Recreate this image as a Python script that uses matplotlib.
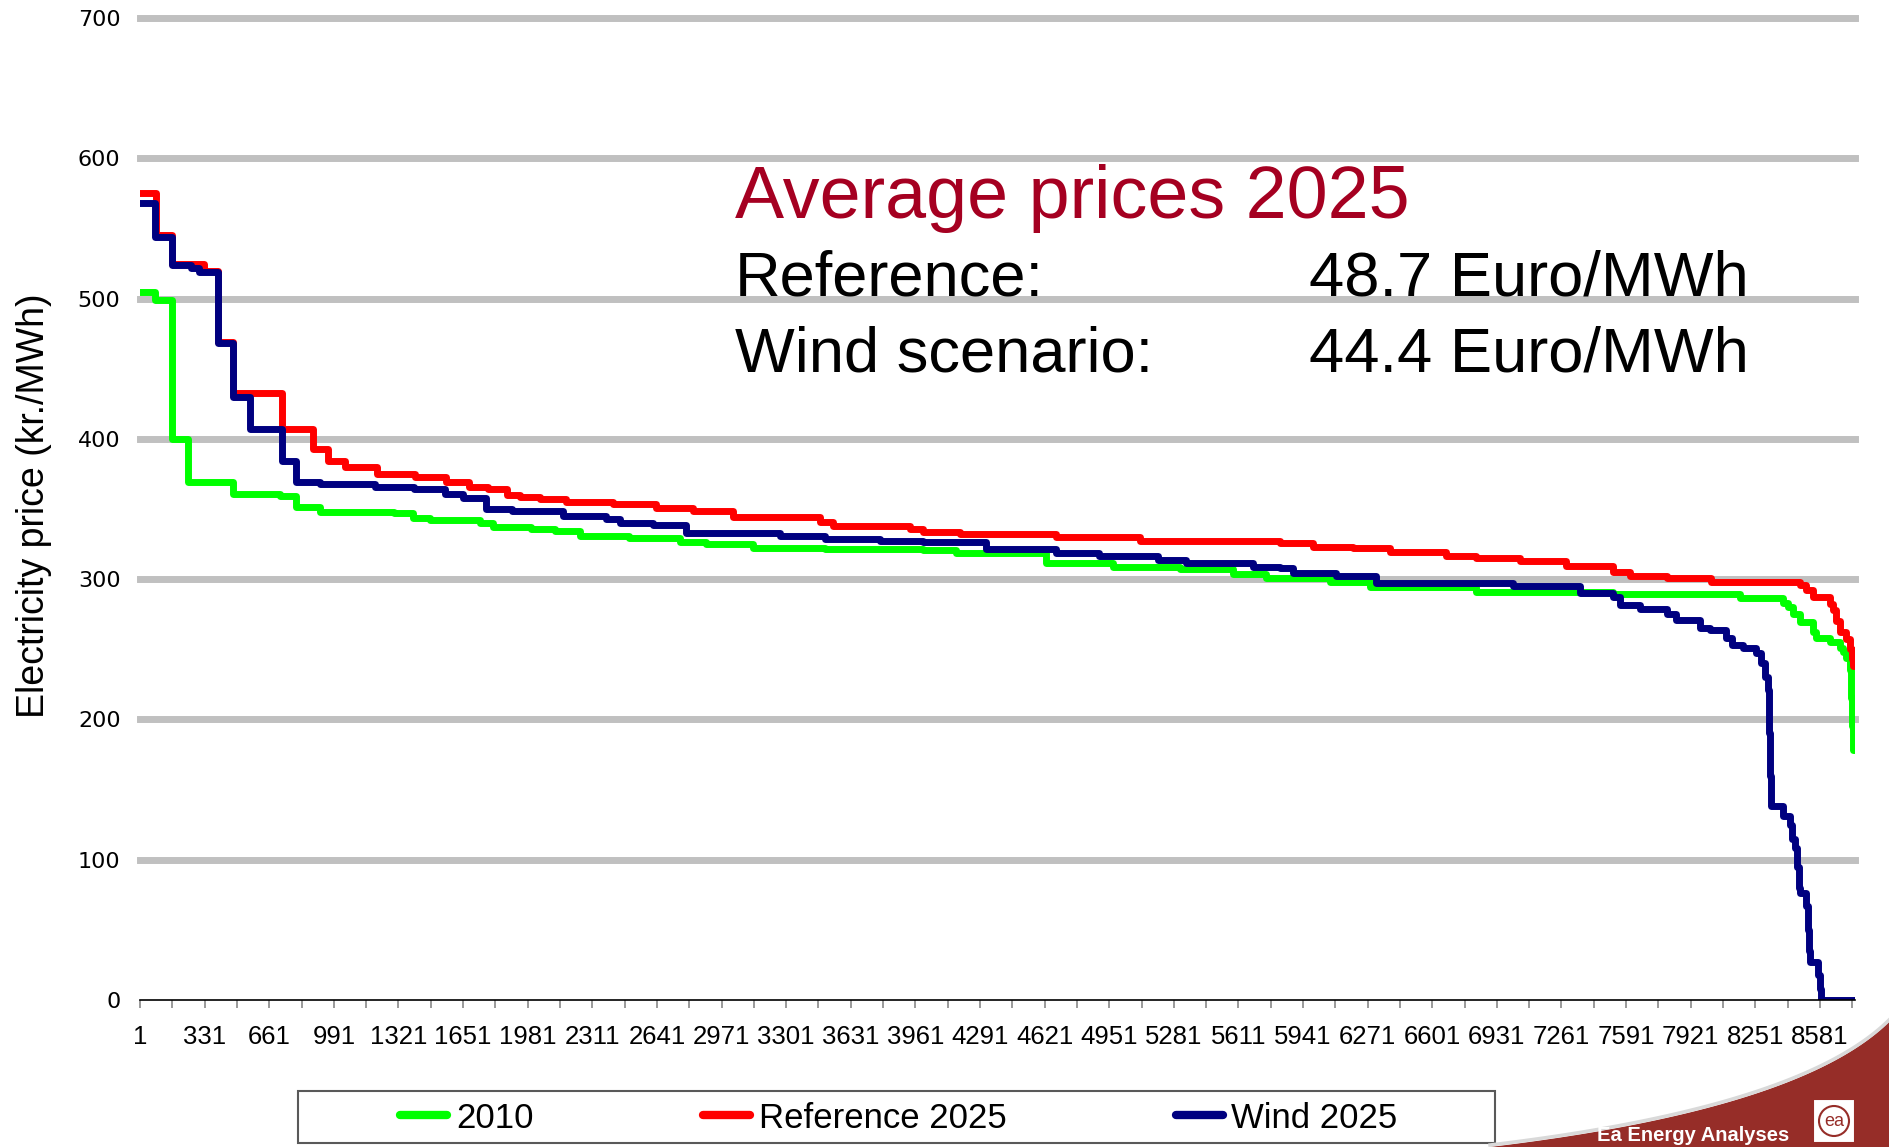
import numpy as np
import matplotlib.pyplot as plt
from matplotlib.patches import Polygon, Rectangle, Circle

# price duration curves, (hour where step starts, price kr./MWh)
hours_2010 = [1, 77, 162, 247, 477, 715, 800, 920, 1300, 1396, 1480, 1736, 1804, 2000, 2120,
              2247, 2500, 2757, 2893, 3132, 3500, 4000, 4170, 4630, 4970, 5311, 5583, 5753,
              6077, 6282, 6826, 7524, 8171, 8393, 8420, 8444, 8478, 8546, 8563, 8631, 8682,
              8700, 8716, 8733, 8740, 8746, 8752]
price_2010 = [505, 499, 400, 369.5, 361, 359, 351.5, 348, 347, 343.5, 342, 340, 337.5, 336, 334.5,
              331, 329.5, 326.7, 325, 322, 321.5, 320.7, 318.3, 311.5, 308.8, 307, 304, 301,
              298.2, 294.6, 290.5, 289.5, 286.3, 283, 280, 275, 269.6, 262, 257.7, 255.4, 251,
              248, 244, 235, 215, 195, 178]

hours_ref = [1, 85, 165, 330, 400, 477, 724, 886, 962, 1047, 1209, 1404, 1566, 1680, 1780,
             1873, 1940, 2042, 2179, 2417, 2638, 2825, 3030, 3472, 3540, 3932, 4000, 4187,
             4681, 5107, 5821, 5992, 6196, 6384, 6673, 6826, 7047, 7286, 7524, 7609, 7800,
             8026, 8478, 8512, 8546, 8631, 8650, 8665, 8682, 8716, 8733, 8745, 8752]
price_ref = [575, 545, 525, 520, 469, 433, 407, 393, 384, 380, 375, 373, 369, 366, 364,
             360, 358.7, 357, 355.2, 353.5, 351, 348.5, 344, 341, 338, 335.5, 333.8, 332.1,
             330.2, 327.4, 325.5, 323.1, 321.9, 319.5, 316.4, 315.3, 312.9, 309.3, 305.3, 302, 300.5,
             298, 296, 292, 287, 282, 278, 270, 262.5, 257, 250, 243, 238]

hours_wind = [1, 77, 162, 260, 300, 400, 477, 562, 724, 800, 920, 1200, 1400, 1560, 1650,
              1770, 1900, 2161, 2383, 2451, 2620, 2791, 3268, 3500, 3779, 4000, 4324, 4681,
              4900, 5200, 5345, 5685, 5822, 5890, 6111, 6316, 7013, 7354, 7524, 7558, 7660,
              7800, 7845, 7967, 8018, 8103, 8130, 8188, 8256, 8280, 8300, 8316, 8322, 8328,
              8333, 8393, 8427, 8440, 8455, 8465, 8472, 8478, 8512, 8518, 8524, 8529, 8571,
              8580, 8588]
price_wind = [568, 544, 524, 522, 519, 468, 430, 407, 384, 369.5, 368, 366, 364, 361, 358,
              349.7, 348.8, 345.2, 343, 340, 338.5, 333, 330.5, 328.5, 327.5, 326.5, 321.5, 318.3,
              316.5, 314, 311.7, 308.5, 307.7, 304.6, 302.2, 297.4, 295, 290.3, 287, 281.5, 279,
              275, 270.8, 265, 263.8, 258, 253, 250.6, 247, 240, 230, 221, 190, 160,
              138, 131, 125, 115, 108, 95, 80, 76, 67, 50, 35, 27.3, 18,
              8, 0]

series_names = ['2010', 'Reference 2025', 'Wind 2025']
series_colors = ['#00ff00', '#ff0000', '#000080']
n_hours = 8760

W, H = 1889, 1147
fig = plt.figure(figsize=(W / 100, H / 100), dpi=100)
ax = fig.add_axes([140 / W, 1 - 1000 / H, 1715 / W, 982 / H])

for hrs, prc, col, name in zip([hours_2010, hours_ref, hours_wind],
                               [price_2010, price_ref, price_wind],
                               series_colors, series_names):
    ax.plot(hrs + [n_hours], prc + [prc[-1]], drawstyle='steps-post',
            color=col, lw=5, label=name)

ax.set_xlim(1, n_hours)
ax.set_ylim(0, 700)
ax.set_yticks(range(0, 701, 100))
ax.set_xticks(np.arange(1, n_hours + 1, 330))
ax.set_xticks(np.arange(166, n_hours + 1, 330), minor=True)

# grey horizontal grid, none at zero
ax.grid(axis='y', color='#c0c0c0', lw=5)
ax.set_axisbelow(True)
for gl in ax.get_ygridlines():
    gl.set_clip_on(False)
ax.get_ygridlines()[0].set_visible(False)

for s in ['left', 'right', 'top']:
    ax.spines[s].set_visible(False)
ax.spines['bottom'].set_color('black')
ax.spines['bottom'].set_linewidth(1.2)

ax.tick_params(axis='y', length=0, pad=14, labelsize=16)
ax.tick_params(axis='x', which='both', length=6, width=1.1, color='#7f7f7f',
               pad=12, labelsize=18.5)
for lbl in ax.get_xticklabels():
    lbl.set_fontfamily('Liberation Sans')

ax.set_ylabel('Electricity price (kr./MWh)', fontsize=27, family='Liberation Sans', va='center')
ax.yaxis.set_label_coords((34 - 140) / 1715, 0.503)

# average price box
fig.text(735 / W, 1 - 218 / H, 'Average prices 2025', color='#a50021',
         fontsize=53, family='Liberation Sans', va='baseline')
fig.text(735 / W, 1 - 295 / H, 'Reference:', fontsize=45.5, family='Liberation Sans', va='baseline')
fig.text(1309 / W, 1 - 295 / H, '48.7 Euro/MWh', fontsize=45.5, family='Liberation Sans', va='baseline')
fig.text(735 / W, 1 - 371 / H, 'Wind scenario:', fontsize=45.5, family='Liberation Sans', va='baseline')
fig.text(1309 / W, 1 - 371 / H, '44.4 Euro/MWh', fontsize=45.5, family='Liberation Sans', va='baseline')

# decoration layer in pixel coords
deco = fig.add_axes([0, 0, 1, 1], zorder=-1)
deco.set_xlim(0, W)
deco.set_ylim(H, 0)
deco.axis('off')

# swoosh in the corner
t = np.linspace(0, 1, 60)
p0, p1, p2 = np.array([1490, 1147]), np.array([1800, 1110]), np.array([1889, 1022])
curve = ((1 - t) ** 2)[:, None] * p0 + (2 * (1 - t) * t)[:, None] * p1 + (t ** 2)[:, None] * p2
swoosh = np.vstack([curve, [[W, H]]])
deco.add_patch(Polygon(swoosh, closed=True, facecolor='#962d28', edgecolor='none'))
deco.plot(curve[:, 0], curve[:, 1] - 2, color='#d9d9d9', lw=2.5)
deco.text(1597, 1141, 'Ea Energy Analyses', color='white', fontsize=14.5, fontweight='bold',
          family='Liberation Sans', va='baseline')
deco.add_patch(Rectangle((1813, 1099), 42, 44, facecolor='white', edgecolor='#962d28', lw=1.5))
deco.add_patch(Circle((1834, 1121), 15, facecolor='none', edgecolor='#962d28', lw=1.5))
deco.text(1834, 1122, 'ea', color='#962d28', fontsize=13, ha='center', va='center',
          family='Liberation Sans')

# legend box
deco.add_patch(Rectangle((298, 1091), 1197, 52, facecolor='white', edgecolor='#595959', lw=1.5))
leg = fig.legend(loc='center', bbox_to_anchor=(383 / W, 1 - 1140 / H, (1415 - 383) / W, 44 / H),
                 mode='expand', ncol=3, frameon=False, borderpad=0, handlelength=1.35,
                 handletextpad=0.25, prop={'family': 'Liberation Sans', 'size': 25})
for hl in leg.get_lines():
    hl.set_linewidth(6)
    hl.set_solid_capstyle('round')

fig.savefig('out.png', dpi=100)
